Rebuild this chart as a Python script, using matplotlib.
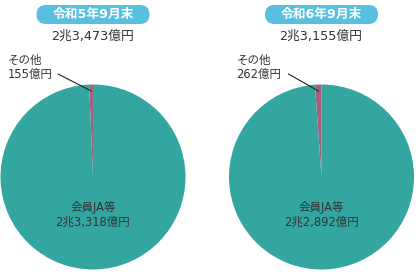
import matplotlib
matplotlib.use("Agg")
import matplotlib.pyplot as plt
import matplotlib.transforms as mtransforms
from matplotlib.patches import FancyBboxPatch
import numpy as np

plt.rcParams['font.family'] = ['DejaVu Sans', 'Noto Sans CJK JP']

# ---- data ----
periods = ["令和5年9月末", "令和6年9月末"]
totals = ["2兆3,473億円", "2兆3,155億円"]
categories = ["その他", "会員JA等"]
other_values = [155, 262]          # 億円
member_values = [23318, 22892]     # 億円
other_labels = ["155億円", "262億円"]
member_labels = ["2兆3,318億円", "2兆2,892億円"]

colors = ["#A5607E", "#33A6A0"]
badge_color = "#58BFDE"
text_color = "#333333"

W, H = 419, 277
DPI = 100
fig = plt.figure(figsize=(W / DPI, H / DPI), dpi=DPI)
px = mtransforms.Affine2D().scale(1 / DPI) + fig.dpi_scale_trans

def fy(y):
    return H - y

centers_x = [93, 321.5]
center_y = 177
R = 92.5

for i in range(2):
    cx = centers_x[i]
    ax = fig.add_axes([(cx - R) / W, (fy(center_y) - R) / H, 2 * R / W, 2 * R / H])
    vals = [other_values[i], member_values[i]]
    ax.pie(vals, colors=colors, startangle=90, counterclock=True, radius=1,
           wedgeprops=dict(linewidth=0))
    ax.set_xlim(-1, 1)
    ax.set_ylim(-1, 1)
    ax.set_aspect('equal')
    ax.axis('off')

    # badge
    bw, bh = 113, 19
    badge = FancyBboxPatch((cx - bw / 2, fy(24)), bw, bh,
                           boxstyle="round,pad=0,rounding_size=9.5",
                           transform=px, facecolor=badge_color, edgecolor='none')
    fig.patches.append(badge)
    fig.text(cx, fy(14.5), periods[i], transform=px, ha='center', va='center',
             color='white', fontsize=9.2, fontweight='bold')
    # total
    fig.text(cx - 1, fy(36), totals[i], transform=px, ha='center', va='center',
             color=text_color, fontsize=9.2)

    # small slice label with leader line
    share = other_values[i] / (other_values[i] + member_values[i])
    mid = np.deg2rad(90 + share * 360 / 2)
    ex, ey = 0.93 * np.cos(mid), 0.93 * np.sin(mid)
    lx = cx - 85
    fig.text(lx, fy(60), categories[0], transform=px, ha='left', va='center',
             color=text_color, fontsize=8.3)
    fig.text(lx, fy(74), other_labels[i], transform=px, ha='left', va='center',
             color=text_color, fontsize=8.3)
    ax.annotate("", xy=(ex, ey), xycoords='data',
                xytext=(lx + 50 + (2 if i == 1 else 0), fy(74)), textcoords=px,
                arrowprops=dict(arrowstyle='-', color='#222222', lw=0.8,
                                shrinkA=0, shrinkB=0))

    # big slice label
    fig.text(cx, fy(207), categories[1], transform=px, ha='center', va='center',
             color=text_color, fontsize=8.3)
    fig.text(cx, fy(222), member_labels[i], transform=px, ha='center', va='center',
             color=text_color, fontsize=8.3)

fig.savefig("out.png", dpi=DPI)
